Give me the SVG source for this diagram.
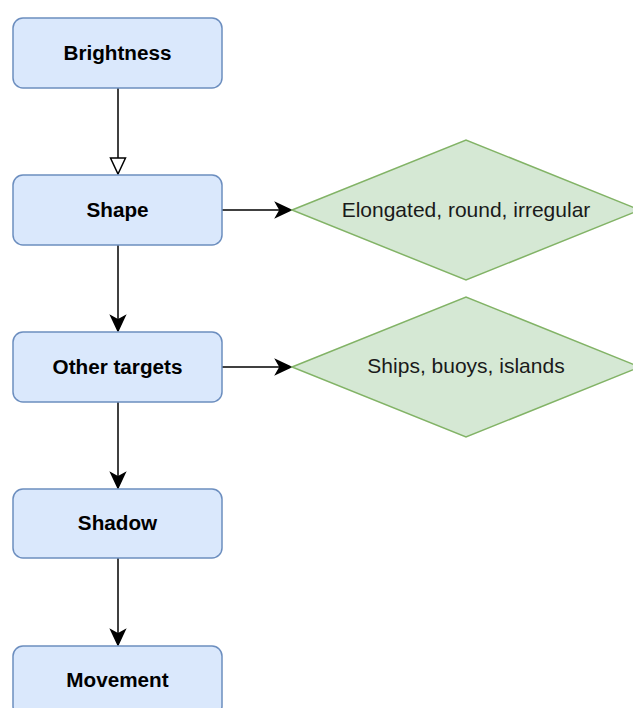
<svg xmlns="http://www.w3.org/2000/svg" width="633" height="708" viewBox="0 0 633 708">
<style>
.box{fill:#dae8fc;stroke:#6c8ebf;stroke-width:1.5}
.dia{fill:#d5e8d4;stroke:#82b366;stroke-width:1.5}
.bt{font-family:"Liberation Sans",Arial,sans-serif;font-size:20.7px;font-weight:bold;fill:#000;text-anchor:middle;dominant-baseline:central}
.dt{font-family:"Liberation Sans",Arial,sans-serif;font-size:21px;fill:#1a1a1a;text-anchor:middle;dominant-baseline:central}
.edge{fill:none;stroke:#000;stroke-width:1.5}
</style>
<defs>
<marker id="open" markerUnits="userSpaceOnUse" markerWidth="20" markerHeight="20" viewBox="-18 -9 20 18" refX="0" refY="0" orient="auto">
<path d="M-16,-7.5 L0,0 L-16,7.5 Z" fill="#fff" stroke="#000" stroke-width="1.5"/>
</marker>
<marker id="filled" markerUnits="userSpaceOnUse" markerWidth="20" markerHeight="20" viewBox="-18 -9 20 18" refX="0" refY="0" orient="auto">
<path d="M-15,-7 L0,0 L-15,7 L-11,0 Z" fill="#000" stroke="#000" stroke-width="1.5"/>
</marker>
</defs>
<g id="edges">
<path class="edge" d="M118,88 V174" marker-end="url(#open)"/>
<path class="edge" d="M222,210 H291" marker-end="url(#filled)"/>
<path class="edge" d="M118,245 V331" marker-end="url(#filled)"/>
<path class="edge" d="M222,367 H291" marker-end="url(#filled)"/>
<path class="edge" d="M118,402 V488" marker-end="url(#filled)"/>
<path class="edge" d="M118,558 V645" marker-end="url(#filled)"/>
</g>
<g id="brightness"><rect class="box" x="13" y="18" width="209" height="70" rx="10"/><text class="bt" x="117.5" y="52">Brightness</text></g>
<g id="shape"><rect class="box" x="13" y="175" width="209" height="70" rx="10"/><text class="bt" x="117.5" y="209">Shape</text></g>
<g id="other"><rect class="box" x="13" y="332" width="209" height="70" rx="10"/><text class="bt" x="117.5" y="366">Other targets</text></g>
<g id="shadow"><rect class="box" x="13" y="489" width="209" height="69" rx="10"/><text class="bt" x="117.5" y="522">Shadow</text></g>
<g id="movement"><rect class="box" x="13" y="646" width="209" height="70" rx="10"/><text class="bt" x="117.5" y="679">Movement</text></g>
<g id="shape-types"><path class="dia" d="M292,210 L466,140 L640,210 L466,280 Z"/><text class="dt" x="466" y="209">Elongated, round, irregular</text></g>
<g id="other-types"><path class="dia" d="M292,367 L466,297 L640,367 L466,437 Z"/><text class="dt" x="466" y="365">Ships, buoys, islands</text></g>
</svg>
